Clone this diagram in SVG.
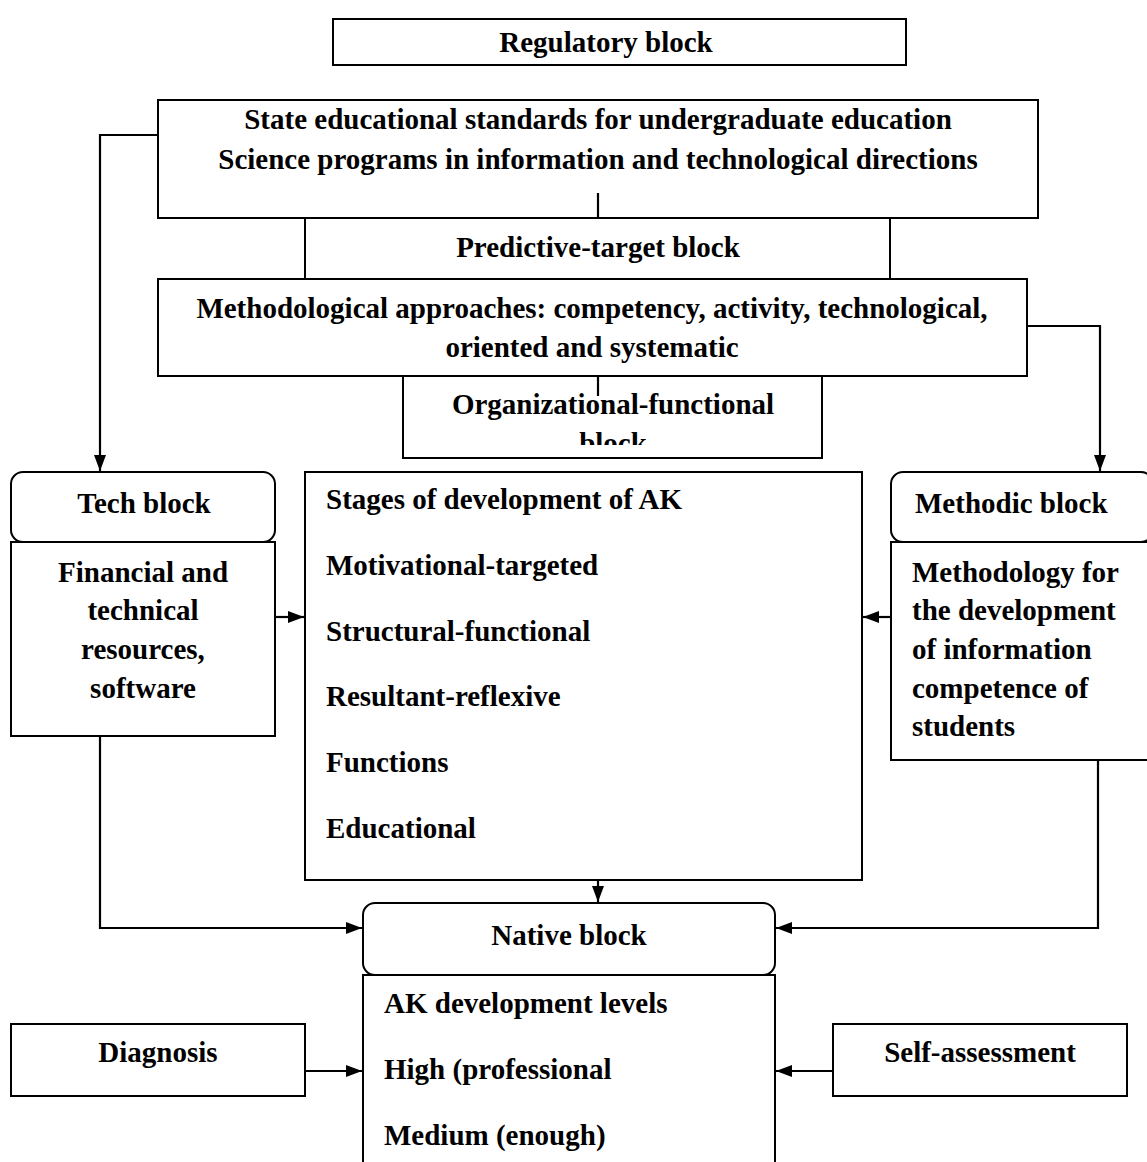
<svg xmlns="http://www.w3.org/2000/svg" width="1147" height="1162" viewBox="0 0 1147 1162">
<defs>
<style>
.b{fill:#fff;stroke:#000;stroke-width:2}
.t{font-family:"Liberation Serif","Times New Roman",serif;font-weight:bold;font-size:29px;fill:#000}
.c{text-anchor:middle}
.ln{fill:none;stroke:#000;stroke-width:2.2}
</style>
<marker id="ah" viewBox="0 0 16 12" refX="16" refY="6" markerWidth="16" markerHeight="12" markerUnits="userSpaceOnUse" orient="auto">
<path d="M0,0 L16,6 L0,12 z" fill="#000"/>
</marker>
</defs>
<rect width="1147" height="1162" fill="#fff"/>
<g id="regulatory">
<rect class="b" x="333" y="19" width="573" height="46"/>
<text class="t c" x="606" y="52">Regulatory block</text>
</g>
<g id="standards">
<rect class="b" x="158" y="100" width="880" height="118"/>
<text class="t c" x="598" y="129">State educational standards for undergraduate education</text>
<text class="t c" x="598" y="169">Science programs in information and technological directions</text>
</g>
<g id="predictive">
<rect class="b" x="305" y="218" width="585" height="61"/>
<text class="t c" x="598" y="257">Predictive-target block</text>
</g>
<g id="approaches">
<rect class="b" x="158" y="279" width="869" height="97"/>
<text class="t c" x="592" y="318">Methodological approaches: competency, activity, technological,</text>
<text class="t c" x="592" y="357">oriented and systematic</text>
</g>
<g id="organizational">
<rect class="b" x="403" y="376" width="419" height="82"/>
<svg x="403" y="376" width="419" height="69" overflow="hidden">
<text class="t c" x="210" y="38">Organizational-functional</text>
<text class="t c" x="210" y="77">block</text>
</svg>
</g>
<g id="tech">
<rect class="b" x="11" y="472" width="264" height="70" rx="12"/>
<text class="t c" x="144" y="513">Tech block</text>
</g>
<g id="financial">
<rect class="b" x="11" y="542" width="264" height="194"/>
<text class="t c" x="143" y="582">Financial and</text>
<text class="t c" x="143" y="620">technical</text>
<text class="t c" x="143" y="659">resources,</text>
<text class="t c" x="143" y="698">software</text>
</g>
<g id="stages">
<rect class="b" x="305" y="472" width="557" height="408"/>
<text class="t" x="326" y="509">Stages of development of AK</text>
<text class="t" x="326" y="575">Motivational-targeted</text>
<text class="t" x="326" y="641">Structural-functional</text>
<text class="t" x="326" y="706">Resultant-reflexive</text>
<text class="t" x="326" y="772">Functions</text>
<text class="t" x="326" y="838">Educational</text>
</g>
<g id="methodic">
<rect class="b" x="891" y="472" width="262" height="70" rx="12"/>
<text class="t" x="915" y="513">Methodic block</text>
</g>
<g id="methodology">
<rect class="b" x="891" y="542" width="262" height="218"/>
<text class="t" x="912" y="582">Methodology for</text>
<text class="t" x="912" y="620">the development</text>
<text class="t" x="912" y="659">of information</text>
<text class="t" x="912" y="698">competence of</text>
<text class="t" x="912" y="736">students</text>
</g>
<g id="native">
<rect class="b" x="363" y="903" width="412" height="72" rx="12"/>
<text class="t c" x="569" y="945">Native block</text>
</g>
<g id="levels">
<rect class="b" x="363" y="975" width="412" height="200"/>
<text class="t" x="384" y="1013">AK development levels</text>
<text class="t" x="384" y="1079">High (professional</text>
<text class="t" x="384" y="1145">Medium (enough)</text>
</g>
<g id="diagnosis">
<rect class="b" x="11" y="1024" width="294" height="72"/>
<text class="t c" x="158" y="1062">Diagnosis</text>
</g>
<g id="selfassessment">
<rect class="b" x="833" y="1024" width="294" height="72"/>
<text class="t c" x="980" y="1062">Self-assessment</text>
</g>
<g id="connectors">
<line class="ln" x1="598" y1="193" x2="598" y2="218"/>
<line class="ln" x1="598" y1="376" x2="598" y2="396"/>
<polyline class="ln" points="158,135 100,135 100,471" marker-end="url(#ah)"/>
<polyline class="ln" points="1027,326 1100,326 1100,471" marker-end="url(#ah)"/>
<line class="ln" x1="275" y1="617" x2="304" y2="617" marker-end="url(#ah)"/>
<line class="ln" x1="891" y1="617" x2="863" y2="617" marker-end="url(#ah)"/>
<line class="ln" x1="598" y1="880" x2="598" y2="902" marker-end="url(#ah)"/>
<polyline class="ln" points="100,736 100,928 362,928" marker-end="url(#ah)"/>
<polyline class="ln" points="1098,760 1098,928 776,928" marker-end="url(#ah)"/>
<line class="ln" x1="305" y1="1071" x2="362" y2="1071" marker-end="url(#ah)"/>
<line class="ln" x1="833" y1="1071" x2="776" y2="1071" marker-end="url(#ah)"/>
</g>
</svg>
